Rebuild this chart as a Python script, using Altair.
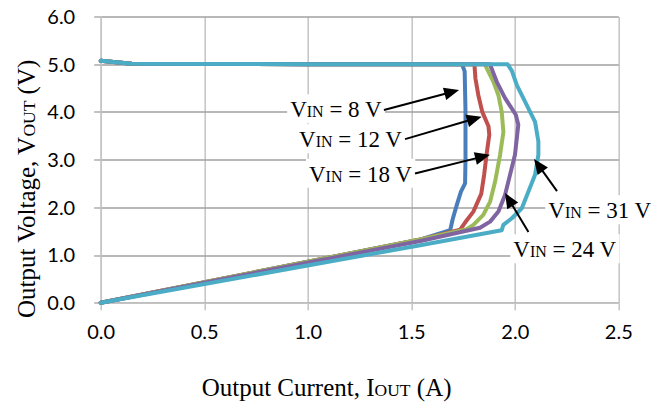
import math
import altair as alt
import pandas as pd

# ---------------- data ----------------
SERIES = ["VIN = 8 V", "VIN = 12 V", "VIN = 18 V", "VIN = 24 V", "VIN = 31 V"]
COLORS = ["#4A7EBB", "#C0504D", "#9BBB59", "#8064A2", "#4BACC6"]

I_8V = [0.00, 0.15, 1.00, 1.745, 1.758, 1.762, 1.762, 1.760, 1.740, 1.720, 1.700, 1.688, 1.55, 0.00]
V_8V = [5.07, 5.01, 5.00, 5.00, 4.85, 4.00, 3.00, 2.50, 2.33, 2.05, 1.75, 1.52, 1.33, 0.00]

I_12V = [0.00, 0.15, 1.00, 1.805, 1.810, 1.824, 1.843, 1.873, 1.877, 1.865, 1.852, 1.838, 1.800, 1.760, 1.736, 1.55, 0.00]
V_12V = [5.07, 5.01, 5.00, 5.00, 4.70, 4.35, 4.00, 3.70, 3.52, 3.15, 2.68, 2.28, 1.91, 1.68, 1.53, 1.33, 0.00]

I_18V = [0.00, 0.15, 1.00, 1.855, 1.897, 1.921, 1.937, 1.945, 1.929, 1.905, 1.881, 1.848, 1.800, 1.768, 1.55, 0.00]
V_18V = [5.07, 5.01, 5.00, 5.00, 4.63, 4.35, 4.00, 3.58, 3.10, 2.54, 2.12, 1.84, 1.63, 1.54, 1.33, 0.00]

I_24V = [0.00, 0.15, 1.00, 1.880, 1.913, 1.953, 2.005, 2.017, 2.001, 1.977, 1.953, 1.921, 1.881, 1.832, 1.55, 0.00]
V_24V = [5.07, 5.01, 5.00, 5.00, 4.63, 4.29, 3.94, 3.73, 3.10, 2.68, 2.26, 1.91, 1.70, 1.57, 1.30, 0.00]

I_31V = [0.00, 0.15, 1.00, 1.965, 1.986, 2.010, 2.058, 2.098, 2.114, 2.114, 2.098, 2.066, 2.034, 1.986, 1.945, 1.937, 1.55, 0.00]
V_31V = [5.07, 5.01, 5.00, 5.00, 4.86, 4.56, 4.14, 3.79, 3.38, 3.10, 2.68, 2.33, 1.98, 1.77, 1.63, 1.52, 1.21, 0.00]

CURVES_I = [I_8V, I_12V, I_18V, I_24V, I_31V]
CURVES_V = [V_8V, V_12V, V_18V, V_24V, V_31V]

X_TICKS = [0.0, 0.5, 1.0, 1.5, 2.0, 2.5]
Y_TICKS = [0.0, 1.0, 2.0, 3.0, 4.0, 5.0, 6.0]

# annotation labels: "V" + sub "IN" + "= n V"
LABEL_NUM = ["8", "12", "18", "31", "24"]
LABEL_I = [0.915, 0.958, 1.006, 2.162, 1.993]     # text start (data units)
LABEL_V = [3.887, 3.258, 2.537, 1.769, 0.952]     # text baseline (data units)
ARROW_TAIL_I = [1.368, 1.470, 1.518, 2.204, 2.066]
ARROW_TAIL_V = [4.04, 3.43, 2.71, 2.34, 1.48]
ARROW_TIP_I = [1.731, 1.840, 1.880, 2.093, 1.953]
ARROW_TIP_V = [4.459, 3.90, 3.10, 3.01, 2.30]

# ---------------- layout ----------------
PLOT_W = 517.6
PLOT_H = 286.2
PX_PER_A = PLOT_W / 2.5
PX_PER_V = PLOT_H / 6.0
SERIF = "Liberation Serif"
SANS = "Lato"
GRID_H = "#A0A0A0"
GRID_V = "#C4C4C4"

# Times-compatible advance widths (em)
TW = {"O": .722, "u": .5, "t": .278, "p": .5, " ": .25, "C": .667, "r": .333, "e": .444,
      "n": .5, ",": .25, "I": .333, "U": .722, "T": .611, "(": .333, "A": .722, ")": .333,
      "V": .722, "o": .5, "l": .278, "a": .444, "g": .5, "N": .722, "=": .564}


def tw(s, size):
    return sum(TW.get(c, .5) for c in s) * size


# ---------------- curve layers ----------------
x_enc = alt.X("I:Q", scale=alt.Scale(domain=[0, 2.5], nice=False, zero=False),
              axis=alt.Axis(values=X_TICKS, format=".1f", title=None, grid=True,
                            gridColor=GRID_V, gridWidth=1.5, domainColor=GRID_V, domainWidth=1.5,
                            tickColor=GRID_V, tickWidth=1.5, tickSize=7,
                            labelFont=SANS, labelFontSize=20, labelColor="#000000",
                            labelPadding=13, labelFlush=False))
y_enc = alt.Y("V:Q", scale=alt.Scale(domain=[0, 6], nice=False, zero=False),
              axis=alt.Axis(values=Y_TICKS, format=".1f", title=None, grid=True,
                            gridColor=GRID_H, gridWidth=1.3, domainColor=GRID_V, domainWidth=1.5,
                            tickColor=GRID_H, tickWidth=1.3, tickSize=7,
                            labelFont=SANS, labelFontSize=20, labelColor="#000000",
                            labelBaseline="alphabetic", labelOffset=7,
                            labelPadding=19, labelFlush=False))

layers = []
for k, (name, col) in enumerate(zip(SERIES, COLORS)):
    df = pd.DataFrame({"I": CURVES_I[k], "V": CURVES_V[k], "idx": range(len(CURVES_I[k])),
                       "series": name})
    enc = dict(x=x_enc, y=y_enc, order=alt.Order("idx:Q")) if k == 0 else \
        dict(x="I:Q", y="V:Q", order=alt.Order("idx:Q"))
    layers.append(alt.Chart(df).mark_line(color=col, strokeWidth=4,
                                          strokeJoin="round", strokeCap="round").encode(**enc))

# ---------------- annotation labels ----------------
F_MAIN, F_SUB = 23, 16
seg_rows, box_rows = [], []
for k, num in enumerate(LABEL_NUM):
    x0 = LABEL_I[k]
    v0 = LABEL_V[k]
    w1 = tw("V", F_MAIN)
    w2 = tw("IN", F_SUB)
    rest = "= " + num + " V"
    off3 = w1 + w2 + tw(" ", F_MAIN)
    w3 = tw(rest, F_MAIN)
    seg_rows += [
        {"I": x0, "V": v0, "t": "V", "fs": F_MAIN},
        {"I": x0 + w1 / PX_PER_A, "V": v0, "t": "IN", "fs": F_SUB},
        {"I": x0 + off3 / PX_PER_A, "V": v0, "t": rest, "fs": F_MAIN},
    ]
    box_rows.append({"I": x0 - 3 / PX_PER_A, "I2": x0 + (off3 + w3 + 3) / PX_PER_A,
                     "V": v0 + 23 / PX_PER_V, "V2": v0 - 6 / PX_PER_V})

boxes = alt.Chart(pd.DataFrame(box_rows)).mark_rect(color="white").encode(
    x="I:Q", x2="I2:Q", y="V:Q", y2="V2:Q")
labels = alt.Chart(pd.DataFrame(seg_rows)).mark_text(
    font=SERIF, align="left", baseline="alphabetic", color="#000000").encode(
    x="I:Q", y="V:Q", text="t:N", size=alt.Size("fs:Q", scale=None))

# ---------------- arrows ----------------
HEAD = 15.0
arr_rows = []
for k in range(len(LABEL_NUM)):
    dxp = (ARROW_TIP_I[k] - ARROW_TAIL_I[k]) * PX_PER_A
    dyp = -(ARROW_TIP_V[k] - ARROW_TAIL_V[k]) * PX_PER_V
    ln = math.hypot(dxp, dyp)
    ux, uy = dxp / ln, dyp / ln
    cI = ARROW_TIP_I[k] - ux * HEAD / 2 / PX_PER_A
    cV = ARROW_TIP_V[k] + uy * HEAD / 2 / PX_PER_V
    ang = math.degrees(math.atan2(dxp, -dyp)) % 360
    arr_rows.append({"tI": ARROW_TAIL_I[k], "tV": ARROW_TAIL_V[k], "cI": cI, "cV": cV, "ang": ang})
arr_df = pd.DataFrame(arr_rows)
shafts = alt.Chart(arr_df).mark_rule(color="black", strokeWidth=2).encode(
    x="tI:Q", y="tV:Q", x2="cI:Q", y2="cV:Q")
heads = alt.Chart(arr_df).mark_point(
    shape="M0,-1L0.85,1L-0.85,1Z", filled=True, color="black", opacity=1,
    size=HEAD * HEAD, strokeWidth=0).encode(
    x="cI:Q", y="cV:Q", angle=alt.Angle("ang:Q", scale=None))

# ---------------- axis titles (with subscripts) ----------------
one = pd.DataFrame({"a": [0]})
T_MAIN, T_SUB = 25, 17.5


def title_seg(text, size, x, y, angle=0):
    kw = dict(font=SERIF, fontSize=size, align="left", baseline="alphabetic",
              color="#000000", text=text)
    if angle:
        kw["angle"] = angle
    return alt.Chart(one).mark_text(**kw).encode(x=alt.value(x), y=alt.value(y))


xt_x, xt_y = 101.0, 379.2
s1 = "Output Current, I"
xs = [title_seg(s1, T_MAIN, xt_x, xt_y),
      title_seg("OUT", T_SUB, xt_x + tw(s1, T_MAIN), xt_y),
      title_seg("(A)", T_MAIN, xt_x + tw(s1, T_MAIN) + tw("OUT", T_SUB) + tw(" ", T_MAIN), xt_y)]

yt_x, yt_y = -65.7, 301.5
s2 = "Output Voltage, V"
KERN_Y = 4.0   # kerning inside "Voltage" shortens the first segment
w_s2 = tw(s2, T_MAIN) - KERN_Y
ys = [title_seg(s2, T_MAIN, yt_x, yt_y, 270),
      title_seg("OUT", T_SUB, yt_x, yt_y - w_s2, 270),
      title_seg("(V)", T_MAIN, yt_x, yt_y - w_s2 - tw("OUT", T_SUB) - tw(" ", T_MAIN), 270)]

chart = alt.layer(*layers, boxes, shafts, heads, labels, *xs, *ys).properties(
    width=PLOT_W, height=PLOT_H,
    padding={"left": 92.7, "top": 8.5, "right": 40, "bottom": 105},
    autosize=alt.AutoSizeParams(type="none"),
    background="white",
).configure_view(stroke=None)

chart.save("out.html", embed_options={"renderer": "svg", "actions": False})
